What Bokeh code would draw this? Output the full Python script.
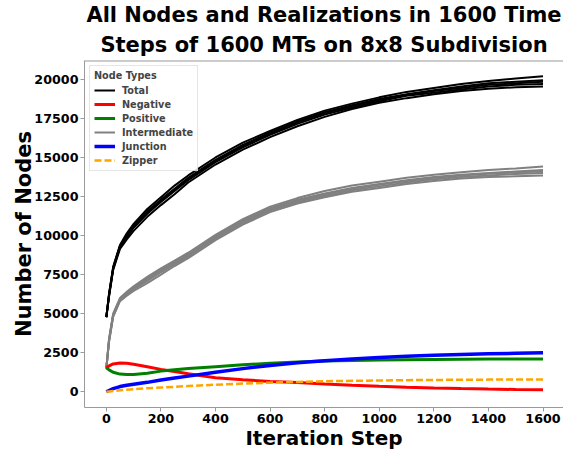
from bokeh.plotting import figure
from bokeh.models import FixedTicker, Range1d, Legend, LegendItem, Title, Span
from bokeh.embed import file_html
from bokeh.resources import INLINE

steps = [0, 10, 25, 50, 75, 100, 150, 200, 250, 300, 400, 500, 600, 700,
         800, 900, 1000, 1100, 1200, 1300, 1400, 1500, 1600]

total_runs = [
    [4770, 6300, 8000, 9400, 10150, 10750, 11700, 12450, 13200, 13850, 15000, 15950,
     16700, 17400, 18000, 18450, 18850, 19200, 19450, 19700, 19900, 20050, 20200],
    [4770, 6200, 7950, 9350, 10050, 10650, 11550, 12300, 13000, 13700, 14850, 15800,
     16600, 17300, 17900, 18350, 18750, 19050, 19300, 19550, 19750, 19850, 19950],
    [4770, 6250, 7900, 9250, 9950, 10550, 11450, 12250, 12950, 13600, 14800, 15750,
     16500, 17250, 17850, 18300, 18700, 19000, 19250, 19450, 19650, 19750, 19850],
    [4770, 6150, 7850, 9300, 9900, 10500, 11400, 12150, 12850, 13550, 14700, 15650,
     16450, 17150, 17750, 18200, 18600, 18950, 19150, 19350, 19550, 19650, 19700],
    [4770, 6100, 7800, 9150, 9750, 10300, 11200, 11950, 12650, 13400, 14550, 15500,
     16300, 17000, 17600, 18100, 18500, 18800, 19050, 19250, 19400, 19500, 19550],
]

intermediate_runs = [
    [1500, 3400, 5000, 6000, 6400, 6750, 7350, 7900, 8400, 8900, 10050, 11050,
     11850, 12400, 12850, 13200, 13450, 13700, 13900, 14050, 14200, 14300, 14420],
    [1500, 3350, 4950, 5950, 6350, 6700, 7250, 7800, 8300, 8800, 9950, 10950,
     11750, 12300, 12700, 13050, 13300, 13550, 13750, 13900, 14000, 14100, 14200],
    [1500, 3300, 4900, 5900, 6300, 6650, 7200, 7750, 8250, 8750, 9900, 10900,
     11700, 12250, 12650, 13000, 13250, 13500, 13700, 13850, 13950, 14050, 14100],
    [1500, 3250, 4850, 5850, 6250, 6550, 7100, 7650, 8150, 8650, 9800, 10800,
     11600, 12150, 12550, 12900, 13150, 13400, 13600, 13750, 13850, 13950, 14000],
    [1500, 3200, 4800, 5800, 6150, 6450, 6950, 7500, 8050, 8550, 9700, 10700,
     11500, 12050, 12450, 12800, 13050, 13300, 13500, 13650, 13750, 13800, 13850],
]

negative = [1530, 1650, 1780, 1840, 1830, 1760, 1600, 1430, 1290, 1150, 900, 760,
            660, 590, 500, 420, 350, 290, 240, 200, 170, 145, 125]
positive = [1530, 1400, 1250, 1130, 1100, 1110, 1190, 1320, 1400, 1480, 1600, 1720,
            1830, 1910, 1960, 2000, 2030, 2050, 2070, 2080, 2090, 2090, 2090]
junction = [0, 80, 200, 330, 420, 480, 600, 750, 880, 1000, 1250, 1480,
            1680, 1850, 1980, 2090, 2190, 2270, 2340, 2390, 2430, 2460, 2490]
zipper = [0, 20, 50, 90, 130, 160, 220, 270, 315, 360, 450, 520,
          580, 630, 670, 700, 720, 740, 755, 765, 775, 785, 790]

x_ticks = [0, 200, 400, 600, 800, 1000, 1200, 1400, 1600]
y_ticks = [0, 2500, 5000, 7500, 10000, 12500, 15000, 17500, 20000]

title_lines = ["All Nodes and Realizations in 1600 Time",
               "Steps of 1600 MTs on 8x8 Subdivision"]

FONT = "DejaVu Sans"
SPINE = "#9a9a9a"
X_START, X_END = -80, 1675
Y_START, Y_END = -1010, 21210

p = figure(width=563, height=452, output_backend="svg", toolbar_location=None,
           x_range=Range1d(X_START, X_END), y_range=Range1d(Y_START, Y_END),
           min_border_left=84, min_border_right=0, min_border_top=60,
           min_border_bottom=43)
p.outline_line_color = None
p.outline_line_alpha = 0
p.grid.grid_line_color = None
p.background_fill_color = "white"
p.border_fill_color = "white"

# p.title is drawn outermost -> first line; the added Title sits next to the frame
p.title.text = title_lines[0]
t2 = Title(text=title_lines[1])
for t in (p.title, t2):
    t.align = "center"
    t.text_font = FONT
    t.text_font_style = "bold"
    t.text_font_size = "21px"
    t.text_color = "black"
    t.standoff = 0
    t.offset = 0
t2.standoff = 8
p.add_layout(t2, "above")

for ax in (p.xaxis[0], p.yaxis[0]):
    ax.axis_line_color = SPINE
    ax.major_tick_line_color = SPINE
    ax.major_tick_in = 0
    ax.major_tick_out = 4
    ax.minor_tick_line_color = None
    ax.major_label_text_font = FONT
    ax.major_label_text_font_style = "bold"
    ax.major_label_text_font_size = "12.7px"
    ax.major_label_text_color = "black"
    ax.axis_label_text_font = FONT
    ax.axis_label_text_font_style = "bold"
    ax.axis_label_text_color = "black"
    ax.major_label_standoff = 2

p.xaxis[0].ticker = FixedTicker(ticks=x_ticks)
p.yaxis[0].ticker = FixedTicker(ticks=y_ticks)
p.xaxis[0].axis_label = "Iteration Step"
p.xaxis[0].axis_label_text_font_size = "20px"
p.xaxis[0].axis_label_standoff = 0
p.yaxis[0].axis_label = "Number of Nodes"
p.yaxis[0].axis_label_text_font_size = "21px"
p.yaxis[0].axis_label_standoff = -5

# top spine
p.add_layout(Span(location=Y_END, dimension="width", line_color=SPINE, line_width=2))

r_total = [p.line(steps, run, line_color="black", line_width=2) for run in total_runs]
r_inter = [p.line(steps, run, line_color="gray", line_width=2) for run in intermediate_runs]
r_neg = p.line(steps, negative, line_color="red", line_width=3)
r_pos = p.line(steps, positive, line_color="green", line_width=3)
r_jun = p.line(steps, junction, line_color="blue", line_width=3.5)
r_zip = p.line(steps, zipper, line_color="orange", line_width=2.5, line_dash="7 3")

legend = Legend(items=[
    LegendItem(label="Total", renderers=[r_total[0]]),
    LegendItem(label="Negative", renderers=[r_neg]),
    LegendItem(label="Positive", renderers=[r_pos]),
    LegendItem(label="Intermediate", renderers=[r_inter[0]]),
    LegendItem(label="Junction", renderers=[r_jun]),
    LegendItem(label="Zipper", renderers=[r_zip]),
], location="top_left")
legend.title = "Node Types"
legend.title_text_font = FONT
legend.title_text_font_style = "bold"
legend.title_text_font_size = "9.7px"
legend.title_standoff = 3
legend.label_text_font = FONT
legend.label_text_font_style = "bold"
legend.label_text_font_size = "9.7px"
legend.glyph_width = 21
legend.glyph_height = 12
legend.label_height = 12
legend.label_standoff = 7
legend.spacing = 2
legend.padding = 4
legend.margin = 5
legend.border_line_color = "#cccccc"
legend.background_fill_alpha = 0.8
p.add_layout(legend)

open("out.html", "w").write(file_html(p, INLINE))
